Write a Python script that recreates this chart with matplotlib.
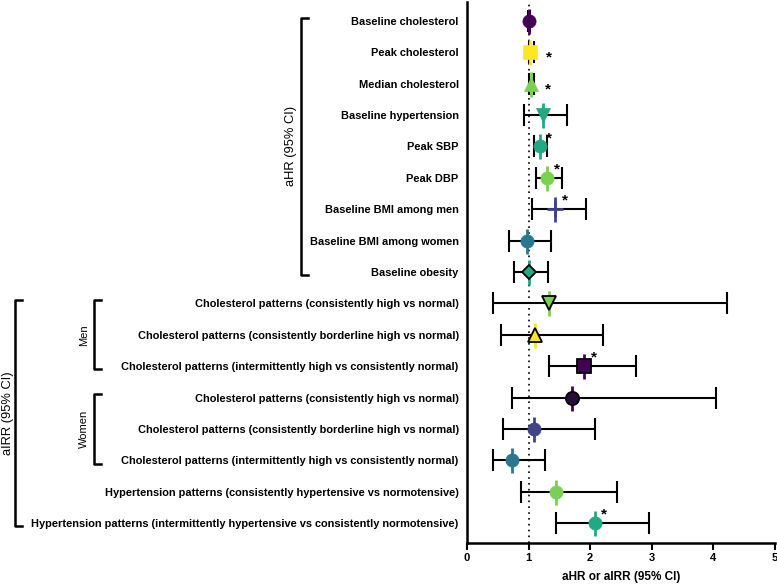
import matplotlib
matplotlib.use("Agg")
import matplotlib.pyplot as plt
from matplotlib.transforms import blended_transform_factory

plt.rcParams['font.family'] = ['Liberation Sans', 'DejaVu Sans']

labels = [
    "Baseline cholesterol",
    "Peak cholesterol",
    "Median cholesterol",
    "Baseline hypertension",
    "Peak SBP",
    "Peak DBP",
    "Baseline BMI among men",
    "Baseline BMI among women",
    "Baseline obesity",
    "Cholesterol patterns (consistently high vs normal)",
    "Cholesterol patterns (consistently borderline high vs normal)",
    "Cholesterol patterns (intermittently high vs consistently normal)",
    "Cholesterol patterns (consistently high vs normal)",
    "Cholesterol patterns (consistently borderline high vs normal)",
    "Cholesterol patterns (intermittently high vs consistently normal)",
    "Hypertension patterns (consistently hypertensive vs normotensive)",
    "Hypertension patterns (intermittently hypertensive vs consistently normotensive)",
]
estimate = [1.01, 1.03, 1.04, 1.23, 1.18, 1.30, 1.43, 0.97, 1.01,
            1.33, 1.11, 1.90, 1.71, 1.09, 0.73, 1.45, 2.07]
ci_low = [0.99, 1.01, 1.01, 0.93, 1.08, 1.12, 1.06, 0.68, 0.76,
          0.42, 0.55, 1.33, 0.73, 0.58, 0.43, 0.87, 1.44]
ci_high = [1.03, 1.09, 1.09, 1.62, 1.30, 1.54, 1.93, 1.36, 1.32,
           4.22, 2.21, 2.74, 4.04, 2.07, 1.26, 2.44, 2.96]
significant = [False, True, True, False, True, True, True, False, False,
               False, False, True, False, False, False, False, True]
x_ticks = [0, 1, 2, 3, 4, 5]

colors = ["#440154", "#fde725", "#7ad151", "#22a884", "#22a884", "#7ad151",
          "#414487", "#2a788e", "#22a884", "#7ad151", "#fde725", "#440154",
          "#2b0a3d", "#414487", "#2a788e", "#7ad151", "#22a884"]
vcolors = ["#440154", "#fde725", "#7ad151", "#22a884", "#22a884", "#7ad151",
           "#414487", "#2a788e", "#22a884", "#7ad151", "#fde725", "#440154",
           "#440154", "#414487", "#2a788e", "#7ad151", "#22a884"]
markers = ["o", "s", "^", "v", "o", "o", "+", "o", "D",
           "v", "^", "s", "o", "o", "o", "o", "o"]
edged = [False]*8 + [True, True, True, True, True, False, False, False, False]
star_off = {1: (13, -4), 2: (12, -4)}

fig = plt.figure(figsize=(7.77, 5.86), dpi=100)
ax = fig.add_axes([467/777, 1 - 543/586, (775-467)/777, 541/586])

ys = list(range(1, len(labels) + 1))
ax.axvline(1, color="black", linestyle=(0, (1, 2.5)), linewidth=1.2, zorder=1)

for i, y in enumerate(ys):
    e, lo, hi = estimate[i], ci_low[i], ci_high[i]
    ax.errorbar([e], [y], xerr=[[e - lo], [hi - e]], fmt="none",
                ecolor="black", elinewidth=1.5, capsize=8, capthick=1.5, zorder=2)
    ax.plot([e], [y], marker="|", color=vcolors[i], markersize=18,
            markeredgewidth=2, zorder=3)
    if markers[i] == "+":
        ax.plot([e], [y], marker="+", color=colors[i], markersize=11,
                markeredgewidth=2, zorder=4)
    else:
        ax.plot([e], [y], marker=markers[i], color=colors[i],
                markersize=9.5 if markers[i] != "D" else 7.5,
                markeredgecolor="black" if edged[i] else colors[i],
                markeredgewidth=1.3 if edged[i] else 0.5, linestyle="none", zorder=4)
    if significant[i]:
        off = star_off.get(i, (7, 6))
        ax.annotate("*", xy=(e, y), xytext=off, textcoords="offset points",
                    ha="center", va="center", fontsize=11, fontweight="bold")

ax.set_ylim(17.63, 0.4)
ax.set_xlim(0, 5)
ax.set_xticks(x_ticks)
ax.set_xticklabels([str(t) for t in x_ticks], fontweight="bold", fontsize=8)
ax.set_yticks(ys)
ax.set_yticklabels(labels, fontweight="bold", fontsize=7.9)
ax.tick_params(axis="y", length=0, pad=6)
ax.tick_params(axis="x", length=5, width=1.5, direction="out", pad=2)
for s in ["top", "right"]:
    ax.spines[s].set_visible(False)
for s in ["left", "bottom"]:
    ax.spines[s].set_linewidth(1.8)
ax.set_xlabel("aHR or aIRR (95% CI)", fontweight="bold", fontsize=8.5, labelpad=6)

tr = blended_transform_factory(fig.transFigure, ax.transData)

def bracket(xpx, y0, y1, label, size, gap, tick=7):
    x = xpx / 777
    t = tick / 777
    ax.plot([x + t, x, x, x + t], [y0 - 0.1, y0 - 0.1, y1 + 0.1, y1 + 0.1],
            color="black", linewidth=1.8, transform=tr, clip_on=False)
    ax.text(x - gap / 777, (y0 + y1) / 2, label, rotation=90, ha="center",
            va="center", fontsize=size, transform=tr)

bracket(301, 1, 9, "aHR (95% CI)", 9.3, 10)
bracket(15, 10, 17, "aIRR (95% CI)", 9.3, 7)
bracket(94, 10, 12, "Men", 8, 10)
bracket(94, 13, 15, "Women", 8, 10)

fig.savefig("out.png", dpi=100)
